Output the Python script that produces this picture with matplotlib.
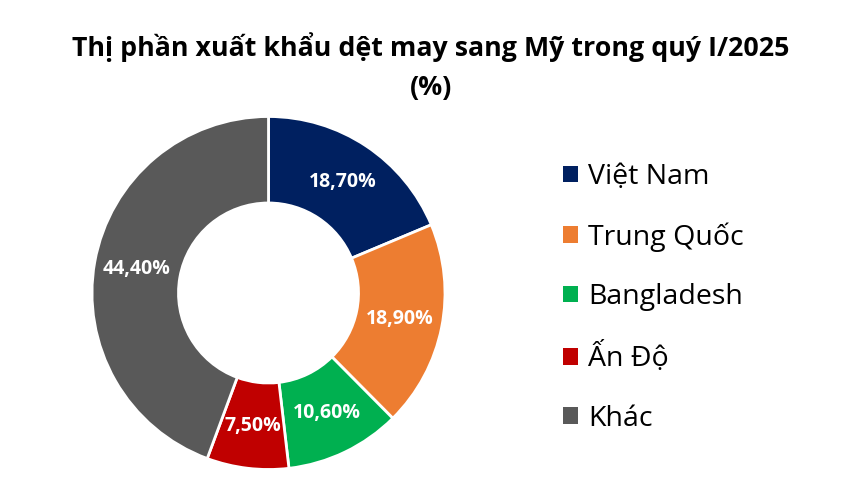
import matplotlib
matplotlib.use("Agg")
import matplotlib.pyplot as plt

plt.rcParams['font.family'] = ['Open Sans', 'DejaVu Sans']

# data
countries = ["Việt Nam", "Trung Quốc", "Bangladesh", "Ấn Độ", "Khác"]
shares = [18.7, 18.9, 10.6, 7.5, 44.4]
colors = ["#002060", "#ED7D31", "#00B050", "#C00000", "#595959"]

W, H = 849, 492
fig = plt.figure(figsize=(W / 100, H / 100), dpi=100)

# donut, placed in pixels: centre (268.5, 293 from top), radius 176.5
cx, cy, r = 268.5, 293, 176.5
ax = fig.add_axes([(cx - r) / W, (H - cy - r) / H, 2 * r / W, 2 * r / H])

wedges, _, autotexts = ax.pie(
    shares, colors=colors, startangle=90, counterclock=False,
    radius=1, autopct="%.2f", pctdistance=0.757,
    wedgeprops=dict(width=0.49, edgecolor="white", linewidth=2),
    textprops=dict(color="white", fontsize=14, fontweight="bold"),
)
# show the given shares (they add up to 100.1, so not the normalised ones)
for t, v in zip(autotexts, shares):
    t.set_text(f"{v:.2f}%".replace(".", ","))

ax.set_xlim(-1, 1)
ax.set_ylim(-1, 1)
ax.set_aspect("equal")
ax.axis("off")

# title, two lines
fig.text(431 / W, 1 - 47 / H, "Thị phần xuất khẩu dệt may sang Mỹ trong quý I/2025",
         ha="center", va="center", fontsize=19.3, fontweight="bold")
fig.text(431 / W, 1 - 88 / H, "(%)", ha="center", va="center",
         fontsize=19.3, fontweight="bold")

leg = fig.legend(wedges, countries, loc="upper left",
                 bbox_to_anchor=(563 / W, 1 - 163 / H),
                 frameon=False, fontsize=20.5,
                 handlelength=0.53, handleheight=0.53, handletextpad=0.35,
                 labelspacing=1.1, borderpad=0, borderaxespad=0)
for p in leg.get_patches():
    p.set_edgecolor("none")

fig.savefig("out.png", dpi=100)
